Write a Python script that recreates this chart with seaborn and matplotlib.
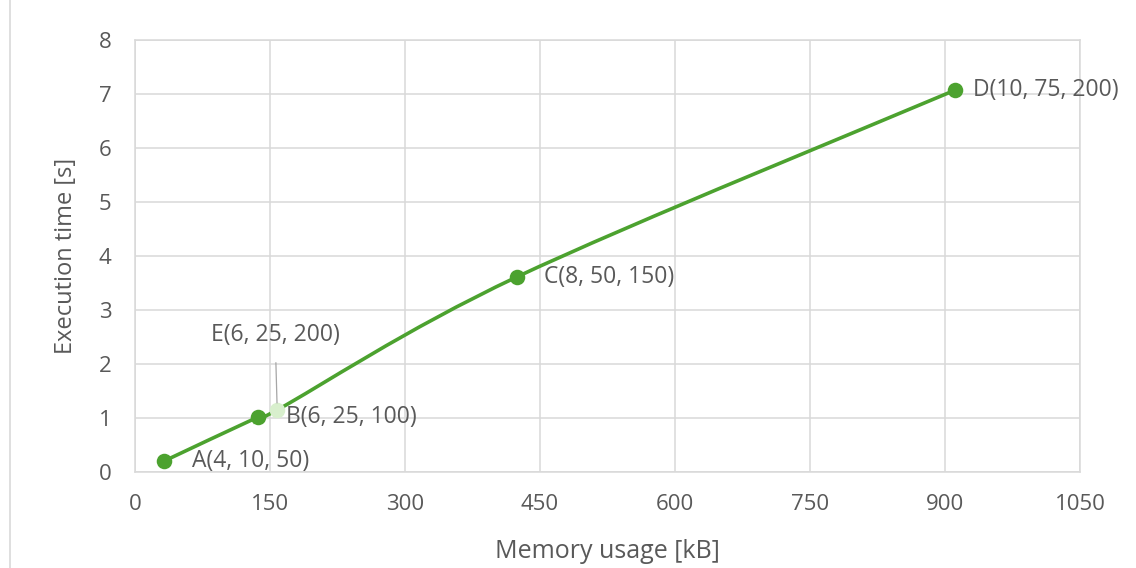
import numpy as np
import pandas as pd
import seaborn as sns
import matplotlib
matplotlib.use("Agg")
import matplotlib.pyplot as plt
from matplotlib.path import Path
from matplotlib.patches import PathPatch
from matplotlib.lines import Line2D

# Configurations measured: memory usage [kB] vs execution time [s]
labels = ["A(4, 10, 50)", "B(6, 25, 100)", "E(6, 25, 200)", "C(8, 50, 150)", "D(10, 75, 200)"]
memory_kb = [32, 137, 158, 424, 911]
exec_time_s = [0.2, 1.02, 1.15, 3.61, 7.07]
highlighted = [True, True, False, True, True]

x_ticks = [0, 150, 300, 450, 600, 750, 900, 1050]
y_ticks = [0, 1, 2, 3, 4, 5, 6, 7, 8]

GREEN = "#4ca22f"
LIGHT_GREEN = "#d8efcd"
TEXT = "#595959"
GRID = "#d9d9d9"
FONT = ["Open Sans", "DejaVu Sans"]

df = pd.DataFrame({"label": labels, "memory": memory_kb, "time": exec_time_s,
                   "main": highlighted})

sns.set_theme(style="white")
plt.rcParams["font.family"] = FONT

fig = plt.figure(figsize=(11.36, 5.68), dpi=100)
ax = fig.add_axes([135 / 1136, 96 / 568, 945 / 1136, 432 / 568])
ax.set_xlim(0, 1050)
ax.set_ylim(0, 8)

# Smoothed connecting curve (cubic Bezier segments with Catmull-Rom tangents),
# built in display space so the smoothing is even in both directions
pts = df[["memory", "time"]].to_numpy(dtype=float)
disp = ax.transData.transform(pts)
verts = [disp[0]]
codes = [Path.MOVETO]
n = len(disp)
t = 1.0 / 6.0
for i in range(n - 1):
    p0 = disp[i - 1] if i > 0 else disp[i]
    p1 = disp[i]
    p2 = disp[i + 1]
    p3 = disp[i + 2] if i + 2 < n else disp[i + 1]
    verts += [p1 + (p2 - p0) * t, p2 - (p3 - p1) * t, p2]
    codes += [Path.CURVE4] * 3
data_verts = ax.transData.inverted().transform(np.array(verts))
ax.add_patch(PathPatch(Path(data_verts, codes), facecolor="none", edgecolor=GREEN,
                       lw=2.6, zorder=3, capstyle="round"))

main = df[df["main"]]
other = df[~df["main"]]
sns.scatterplot(data=main, x="memory", y="time", ax=ax, color=GREEN, s=125,
                edgecolor=GREEN, linewidth=0, zorder=4, legend=False)
sns.scatterplot(data=other, x="memory", y="time", ax=ax, color=LIGHT_GREEN, s=125,
                edgecolor=LIGHT_GREEN, linewidth=0, zorder=5, legend=False)

# Point labels
for _, r in df.iterrows():
    if r["main"]:
        dx = 13 if r["memory"] > 800 else 20
        ax.annotate(r["label"], (r["memory"], r["time"]), xytext=(dx, 0),
                    textcoords="offset points", ha="left", va="center",
                    fontsize=16.5, color=TEXT, zorder=6)
    else:
        ax.annotate(r["label"], (r["memory"], r["time"]), xytext=(-1.5, 54),
                    textcoords="offset points", ha="center", va="center",
                    fontsize=16.5, color=TEXT, zorder=6,
                    arrowprops=dict(arrowstyle="-", color="#a6a6a6", lw=0.9,
                                    shrinkA=9, shrinkB=5))

ax.set_xticks(x_ticks)
ax.set_yticks(y_ticks)
ax.grid(True, color=GRID, lw=1.1)
ax.set_axisbelow(True)
for s in ax.spines.values():
    s.set_color(GRID)
    s.set_linewidth(1.1)
ax.tick_params(axis="x", length=0, labelsize=16, labelcolor=TEXT, pad=16)
ax.tick_params(axis="y", length=0, labelsize=16, labelcolor=TEXT, pad=17)
ax.set_xlabel("Memory usage [kB]", fontsize=18, color=TEXT, labelpad=17)
ax.set_ylabel("Execution time [s]", fontsize=17, color=TEXT, labelpad=15)

# outer chart border on the left
fig.add_artist(Line2D([10 / 1136, 10 / 1136], [0, 1], transform=fig.transFigure,
                      color=GRID, lw=1.2))

fig.savefig("out.png", dpi=100, facecolor="white")
